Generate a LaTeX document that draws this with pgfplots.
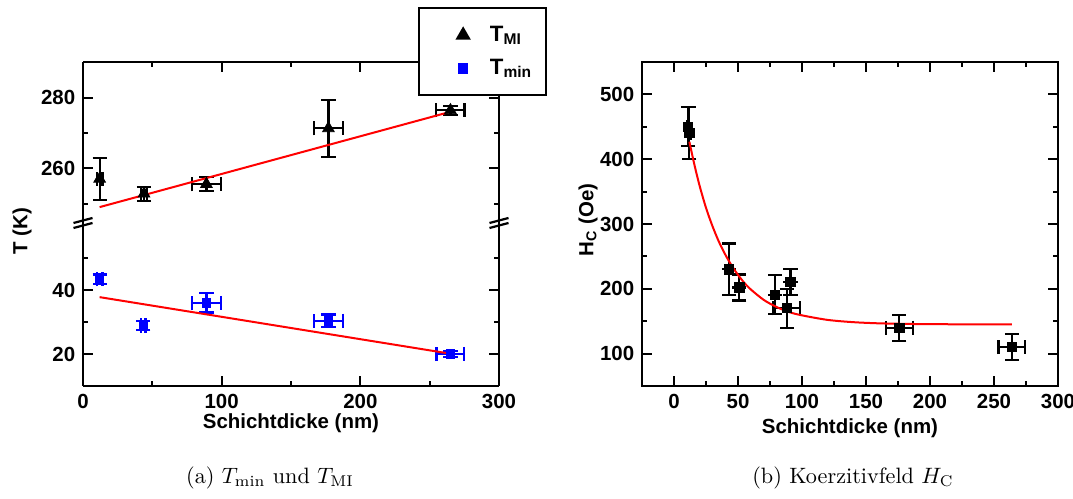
\documentclass[border=0pt]{standalone}
\usepackage{fontspec}
\usepackage{pgfplots}
\pgfplotsset{compat=1.18}
\newfontfamily\arial{Liberation Sans}

\pgfplotstableread{
x    y      ex    ey
12   257    2     6
44   252.8  2     2
89   255.5  10.5  2
177  271.3  10.5  8
265  276.4  10.2  1.3
}\tmi

\pgfplotstableread{
x    y      ex    ey
12   43.4   2     1.5
43.5 28.9   1.5   1.5
89   36     10.5  3
177  30.4   10.5  2
265  20     10    1
}\tmin

\pgfplotstableread{
x    y      ex    ey
11   450    1     30
12   440    1     40
43   230    0     40
51   202    0     20
79   191    0     30
88   170    10.5  30
91   211    0     20
176  140    10.5  20
264  110    10.5  20
}\hc

\pgfplotsset{
  common/.style={
    scale only axis, width=187.2pt, enlargelimits=false, clip=false,
    every non boxed x axis/.style={}, every non boxed y axis/.style={},
    tick align=inside,
    major tick length=4.5pt, minor tick length=2.3pt,
    tick style={black, line width=0.9pt},
    axis line style={black, line width=1pt},
    ticklabel style={font=\arial\bfseries\fontsize{9.2}{10}\selectfont},
    label style={font=\arial\bfseries\fontsize{9.2}{10}\selectfont},
    /pgf/number format/assume math mode=true,
    error bars/error bar style={line width=1pt},
    error bars/error mark options={rotate=90, line width=1pt, mark size=3.2pt},
  },
  ebars/.style={error bars/.cd, x dir=both, x explicit, y dir=both, y explicit, /pgfplots/.cd},
}

\begin{document}
\begin{tikzpicture}
\path[use as bounding box] (0,0) rectangle (482.85pt,224.55pt);

% ---- upper left axis (T_MI)
\begin{axis}[common, at={(37.35pt,124.2pt)}, anchor=south west, height=72.45pt,
  axis x line=top, axis y line=box,
  x axis line style={-}, y axis line style={-},
  tick align=inside,
  xmin=0, xmax=300, ymin=244.5, ymax=290.1,
  xtick={0,100,200,300}, minor xtick={50,150,250}, xticklabels={,,,},
  ytick={260,280}, minor ytick={250,270,290},
  legend style={at={(0.8053,1.3416)}, anchor=north west, draw=black, line width=1pt,
    fill=white, inner xsep=4pt, inner ysep=6pt, row sep=2.5pt,
    font=\arial\bfseries\fontsize{10}{12}\selectfont},
  legend cell align=left,
  legend image code/.code={\path[draw=none] (0cm,0cm) (0.91cm,0cm);
    \draw[#1, only marks] plot coordinates {(0.556cm,0cm)};},
]
\addplot[only marks, mark=triangle*, mark size=3pt, black, ebars]
  table[x=x, y=y, x error=ex, y error=ey] {\tmi};
\addlegendentry{T\textsubscript{MI}}
\addlegendimage{only marks, mark=square*, mark size=1.9pt, blue}
\addlegendentry{T\textsubscript{min}}
\addplot[red, line width=0.9pt, forget plot] coordinates {(12,249) (265,276)};
\end{axis}

% ---- lower left axis (T_min)
\begin{axis}[common, at={(37.35pt,50.85pt)}, anchor=south west, height=73.35pt,
  axis x line=bottom, axis y line=box,
  x axis line style={-}, y axis line style={-},
  tick align=inside,
  xmin=0, xmax=300, ymin=10, ymax=61,
  xtick={0,100,200,300}, minor xtick={50,150,250},
  ytick={20,40}, minor ytick={30,50},
  xlabel={Schichtdicke (nm)},
  xlabel style={at={(axis description cs:0.5,-0.227)}, anchor=center,
    font=\arial\bfseries\fontsize{9.2}{10}\selectfont},
  ylabel={T (K)},
  ylabel style={at={(axis description cs:-0.1466,0.951)}, anchor=center, rotate=0,
    font=\arial\bfseries\fontsize{9.2}{10}\selectfont},
]
\addplot[only marks, mark=square*, mark size=1.9pt, blue, ebars,
  error bars/error bar style={blue, line width=1pt},
  error bars/error mark options={rotate=90, blue, line width=1pt, mark size=3.2pt}]
  table[x=x, y=y, x error=ex, y error=ey] {\tmin};
\addplot[red, line width=0.9pt] coordinates {(12,37.8) (265,20.1)};
\end{axis}

% break marks
\foreach \xx in {83,499} {
  \foreach \yy in {220.5,225.5} {
    \draw[line width=1pt] ({(\xx-9.5)*0.45pt},{(499-\yy-2.5)*0.45pt}) -- ({(\xx+9.5)*0.45pt},{(499-\yy+2.5)*0.45pt});
  }
}

% ---- right axis (H_C)
\begin{axis}[common, at={(288.9pt,50.85pt)}, anchor=south west, height=145.8pt,
  xmin=-25, xmax=300, ymin=50, ymax=550,
  xtick={0,50,...,300}, minor xtick={-25,25,75,125,175,225,275},
  ytick={100,200,...,500}, minor ytick={50,150,250,350,450,550},
  xlabel={Schichtdicke (nm)},
  xlabel style={at={(axis description cs:0.5,-0.1296)}, anchor=center},
  ylabel={H\textsubscript{C} (Oe)},
  ylabel style={at={(axis description cs:-0.1298,0.512)}, anchor=center},
]
\addplot[only marks, mark=square*, mark size=2.1pt, black, ebars]
  table[x=x, y=y, x error=ex, y error=ey] {\hc};
\addplot[red, line width=0.9pt, smooth] coordinates {
(12,427) (16,391) (20,359) (25,325) (30,297) (35,273) (40,253) (45,236)
(50,221.5) (55,209) (60,199) (70,183) (80,172) (90,164) (100,159)
(120,152) (140,148.5) (160,146.7) (180,145.9) (200,145.4) (230,145.2) (264,145)};
\end{axis}

% captions
\node[font=\normalsize] at (121.5pt,9.45pt) {(a) $T_{\mathrm{min}}$ und $T_{\mathrm{MI}}$};
\node[font=\normalsize] at (383.85pt,9.45pt) {(b) Koerzitivfeld $H_{\mathrm{C}}$};
\end{tikzpicture}
\end{document}
